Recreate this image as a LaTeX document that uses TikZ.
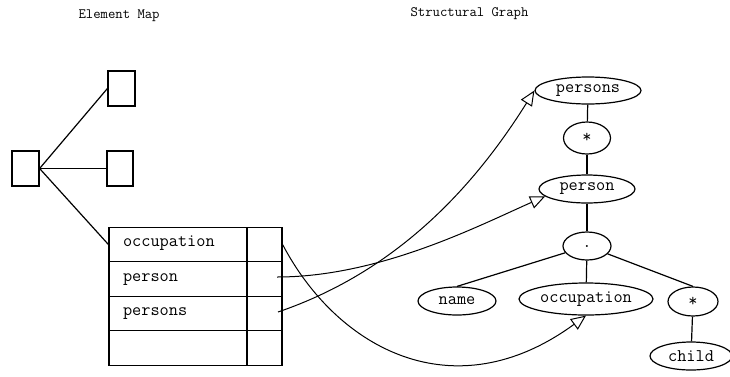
\documentclass[tikz,border=0pt]{standalone}
\usepackage{fontspec}
\usetikzlibrary{shapes.geometric,arrows.meta,calc}
\begin{document}
\begin{tikzpicture}[x=1pt,y=-1pt,line width=1.2pt,
  title/.style={font=\ttfamily\fontsize{14.3}{16}\selectfont, inner sep=0pt, anchor=base west},
  lbl/.style={font=\ttfamily\fontsize{17.8}{20}\selectfont},
  box/.style={draw, rectangle, inner sep=0pt, minimum width=27pt, minimum height=35pt},
  keycell/.style={lbl, draw, rectangle, inner ysep=0pt, inner xsep=14pt, text width=110pt,
                  align=left, minimum height=34.5pt, text height=1.6ex, text depth=0.5ex},
  ptrcell/.style={draw, rectangle, inner sep=0pt, minimum width=35pt, minimum height=34.5pt},
  oval/.style={lbl, ellipse, draw, inner sep=0pt},
  link/.style={line width=1pt, -{Triangle[open,length=15pt,width=13pt,line width=1pt]}}]
\useasboundingbox (0,0) rectangle (730,376);

% headings
\node[title] (hmap) at (78,18) {Element Map};
\node[title] (hgraph) at (410,16) {Structural Graph};

% element map: tree of boxes
\node[box] (root) at (25.5,168.5) {};
\node[box] (top) at (121.5,88.5) {};
\node[box, minimum width=26pt] (mid) at (120,168.5) {};

% element map: table
\node[keycell] (occL) at (178,244.5) {occupation};
\node[ptrcell] (occR) at (264.5,244.5) {};
\node[keycell] (perL) at (178,279) {person};
\node[ptrcell] (perR) at (264.5,279) {};
\node[keycell] (psL) at (178,313.5) {persons};
\node[ptrcell] (psR) at (264.5,313.5) {};
\node[keycell] (nilL) at (178,348) {};
\node[ptrcell] (nilR) at (264.5,348) {};

\draw (root.east) -- (top.west);
\draw (root.east) -- (mid.west);
\draw (root.east) -- (occL.west);

% structural graph
\node[oval, minimum width=106pt, minimum height=27pt] (persons) at (588,90.5) {persons};
\node[oval, minimum width=47pt, minimum height=32pt] (star1) at (587,138) {*};
\node[oval, minimum width=96pt, minimum height=28pt] (person) at (587,189) {person};
\node[oval, minimum width=48pt, minimum height=28pt] (seq) at (587,246) {.};
\node[oval, minimum width=78pt, minimum height=28pt] (name) at (457,301) {name};
\node[oval, minimum width=134pt, minimum height=32pt] (occ) at (586,299) {occupation};
\node[oval, minimum width=50pt, minimum height=29pt] (star2) at (693,301.5) {*};
\node[oval, minimum width=82pt, minimum height=28pt] (child) at (691,356) {child};

\draw (persons) -- (star1);
\draw (star1) -- (person);
\draw (person) -- (seq);
\draw (seq) -- (name.north);
\draw (seq) -- (occ);
\draw (seq) -- (star2.north);
\draw (star2) -- (child);

% pointers from the table into the graph
\coordinate (pPer) at (277,277);
\coordinate (pPs) at (278,312);
\draw[link] (occR.east) .. controls (337.5,349) and (454,412) .. (occ.south);
\draw[link] (pPer) .. controls (380,277) and (480,225) .. (person.190);
\draw[link] (pPs) .. controls (401,270) and (477,182) .. (persons.west);
\end{tikzpicture}
\end{document}
